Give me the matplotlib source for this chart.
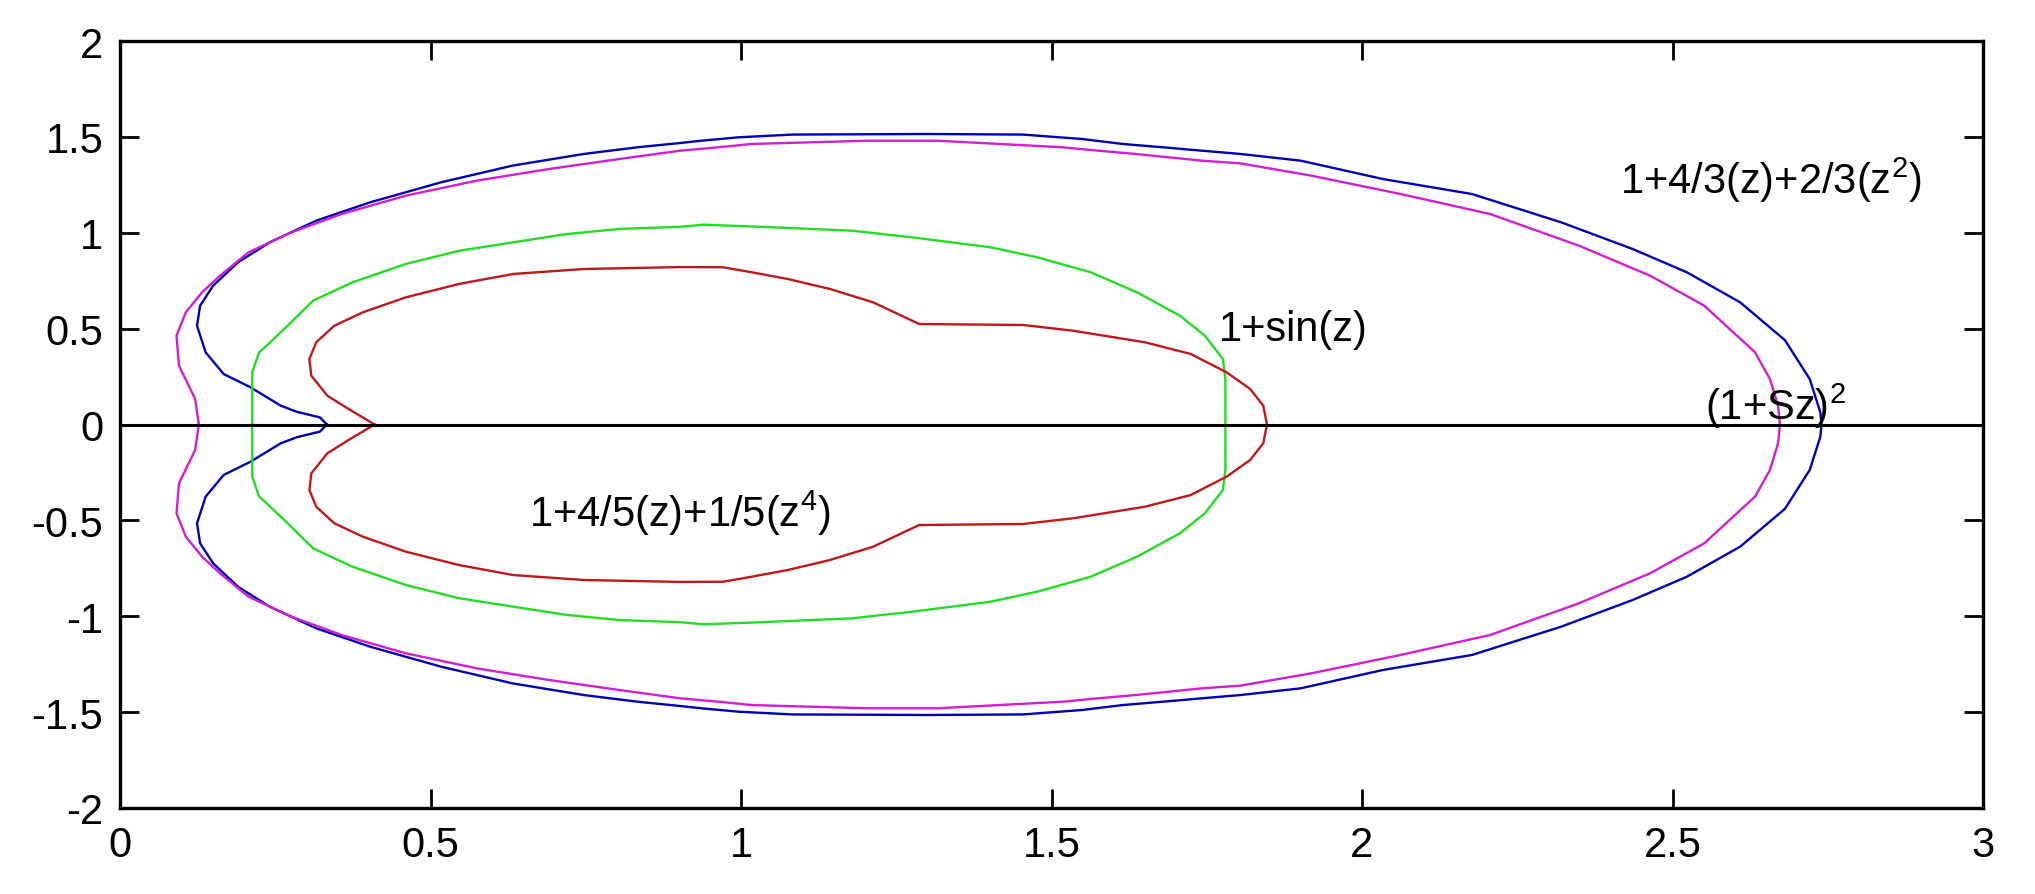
import numpy as np
import matplotlib
matplotlib.use("Agg")
import matplotlib.pyplot as plt

plt.rcParams['font.family'] = ['Liberation Sans', 'DejaVu Sans']
plt.rcParams['mathtext.fontset'] = 'custom'
plt.rcParams['mathtext.rm'] = 'Liberation Sans'
plt.rcParams['mathtext.it'] = 'Liberation Sans'
plt.rcParams['mathtext.bf'] = 'Liberation Sans'

# Upper halves of the boundary curves (the picture is symmetric about y=0)
blue_x = [0.333, 0.322, 0.285, 0.259, 0.209, 0.167, 0.138, 0.124, 0.129, 0.150, 0.190, 0.241,
          0.316, 0.403, 0.517, 0.632, 0.747, 0.834, 0.902, 0.936, 0.997, 1.083, 1.300, 1.454,
          1.549, 1.615, 1.678, 1.742, 1.804, 1.901, 2.034, 2.177, 2.321, 2.436, 2.523, 2.609,
          2.681, 2.721, 2.738, 2.740]
blue_y = [0.000, 0.037, 0.066, 0.098, 0.196, 0.263, 0.376, 0.515, 0.620, 0.724, 0.846, 0.950,
          1.063, 1.159, 1.263, 1.350, 1.411, 1.446, 1.468, 1.480, 1.498, 1.512, 1.515, 1.512,
          1.489, 1.463, 1.446, 1.428, 1.411, 1.376, 1.280, 1.202, 1.054, 0.915, 0.794, 0.637,
          0.440, 0.237, 0.064, 0.000]

magenta_x = [0.127, 0.121, 0.095, 0.091, 0.106, 0.132, 0.161, 0.207, 0.276, 0.357, 0.460, 0.575,
             0.690, 0.805, 0.902, 0.965, 1.017, 1.204, 1.316, 1.517, 1.575, 1.635, 1.690, 1.742,
             1.804, 1.918, 2.062, 2.206, 2.349, 2.464, 2.551, 2.633, 2.657, 2.670, 2.673]
magenta_y = [0.000, 0.133, 0.307, 0.463, 0.585, 0.689, 0.776, 0.898, 1.002, 1.098, 1.193, 1.272,
             1.332, 1.385, 1.428, 1.446, 1.463, 1.480, 1.480, 1.446, 1.428, 1.411, 1.393, 1.376,
             1.362, 1.298, 1.202, 1.098, 0.933, 0.776, 0.620, 0.376, 0.237, 0.098, 0.000]

green_x = [0.213, 0.213, 0.224, 0.236, 0.270, 0.311, 0.374, 0.460, 0.546, 0.633, 0.719, 0.805,
           0.902, 0.939, 1.017, 1.178, 1.276, 1.402, 1.477, 1.563, 1.638, 1.707, 1.747, 1.776,
           1.780, 1.780]
green_y = [0.000, 0.272, 0.376, 0.411, 0.515, 0.646, 0.741, 0.837, 0.906, 0.950, 0.993, 1.020,
           1.031, 1.042, 1.033, 1.011, 0.976, 0.924, 0.872, 0.794, 0.689, 0.567, 0.463, 0.342,
           0.237, 0.000]

red_x = [0.410, 0.368, 0.334, 0.308, 0.305, 0.316, 0.345, 0.391, 0.460, 0.546, 0.633, 0.747,
         0.902, 0.971, 1.017, 1.075, 1.143, 1.213, 1.287, 1.454, 1.535, 1.650, 1.724, 1.782,
         1.820, 1.841, 1.847]
red_y = [0.000, 0.081, 0.150, 0.255, 0.342, 0.429, 0.515, 0.585, 0.663, 0.733, 0.785, 0.811,
         0.821, 0.820, 0.794, 0.759, 0.707, 0.637, 0.524, 0.519, 0.489, 0.429, 0.368, 0.272,
         0.185, 0.098, 0.000]

labels = ['1+4/3(z)+2/3(z$^{2}$)', '(1+Sz)$^{2}$', '1+sin(z)', '1+4/5(z)+1/5(z$^{4}$)']
label_x = [2.415, 2.552, 1.769, 0.658]
label_y = [1.28, 0.10, 0.50, -0.46]

x_ticks = [0, 0.5, 1, 1.5, 2, 2.5, 3]
x_ticklabels = ['0', '0.5', '1', '1.5', '2', '2.5', '3']
y_ticks = [-2, -1.5, -1, -0.5, 0, 0.5, 1, 1.5, 2]
y_ticklabels = ['-2', '-1.5', '-1', '-0.5', '0', '0.5', '1', '1.5', '2']


def closed(xs, ys):
    xs = np.asarray(xs)
    ys = np.asarray(ys)
    return (np.concatenate([xs, xs[::-1]]), np.concatenate([ys, -ys[::-1]]))


fig = plt.figure(figsize=(20.35, 8.95), dpi=100)
ax = fig.add_axes([120 / 2035, 1 - 809 / 895, 1863 / 2035, 767 / 895])

for xs, ys, col in [(blue_x, blue_y, '#0000B4'), (magenta_x, magenta_y, '#D21ED2'),
                    (green_x, green_y, '#22DD22'), (red_x, red_y, '#C01818')]:
    cx, cy = closed(xs, ys)
    ax.plot(cx, cy, color=col, lw=1.7)

ax.axhline(0, color='black', lw=2.2)

for t, x, y in zip(labels, label_x, label_y):
    ax.text(x, y, t, fontsize=30, ha='left', va='center', color='black')

ax.set_xlim(0, 3)
ax.set_ylim(-2, 2)
ax.set_xticks(x_ticks)
ax.set_xticklabels(x_ticklabels)
ax.set_yticks(y_ticks)
ax.set_yticklabels(y_ticklabels)
ax.tick_params(direction='in', top=True, right=True, length=14, width=2,
               labelsize=30, pad=12)
for s in ax.spines.values():
    s.set_linewidth(2.4)

fig.savefig('out.png', dpi=100, facecolor='white')
